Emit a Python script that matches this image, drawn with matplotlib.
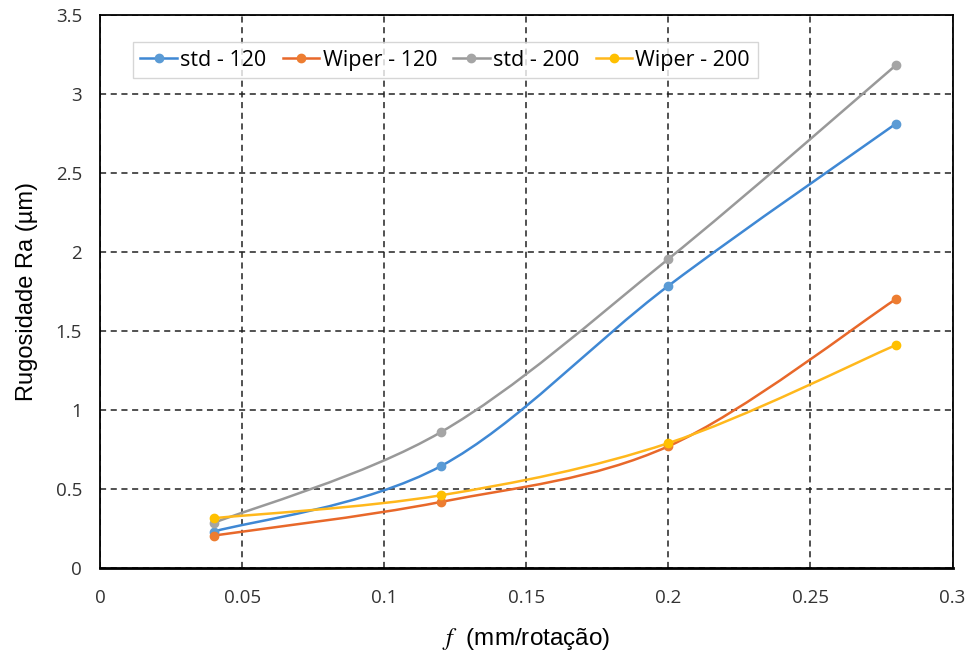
import matplotlib
matplotlib.use("Agg")
import matplotlib.pyplot as plt
from matplotlib.path import Path
from matplotlib.patches import PathPatch
from matplotlib.lines import Line2D
import numpy as np

plt.rcParams["mathtext.fontset"] = "stix"

feed = [0.04, 0.12, 0.20, 0.28]
series_names = ["std - 120", "Wiper - 120", "std - 200", "Wiper - 200"]
std_120 = [0.23, 0.645, 1.785, 2.81]
wiper_120 = [0.205, 0.418, 0.77, 1.70]
std_200 = [0.285, 0.86, 1.955, 3.18]
wiper_200 = [0.315, 0.46, 0.79, 1.41]
series_values = [std_120, wiper_120, std_200, wiper_200]
line_colors = ["#3f88d4", "#e8682a", "#999999", "#ffb81c"]
marker_colors = ["#5b9bd5", "#ed7d31", "#a5a5a5", "#ffc000"]

x_ticks = [0, 0.05, 0.1, 0.15, 0.2, 0.25, 0.3]
x_tick_labels = ["0", "0.05", "0.1", "0.15", "0.2", "0.25", "0.3"]
y_ticks = [0, 0.5, 1, 1.5, 2, 2.5, 3, 3.5]
y_tick_labels = ["0", "0.5", "1", "1.5", "2", "2.5", "3", "3.5"]


def smooth_path(xs, ys):
    pts = np.column_stack([xs, ys]).astype(float)
    n = len(pts)
    verts = [pts[0]]
    codes = [Path.MOVETO]
    for i in range(n - 1):
        p0 = pts[i - 1] if i > 0 else pts[i]
        p1 = pts[i]
        p2 = pts[i + 1]
        p3 = pts[i + 2] if i + 2 < n else pts[i + 1]
        c1 = p1 + (p2 - p0) / 6.0
        c2 = p2 - (p3 - p1) / 6.0
        verts += [c1, c2, p2]
        codes += [Path.CURVE4] * 3
    return Path(verts, codes)


fig = plt.figure(figsize=(9.71, 6.57), dpi=100)
ax = fig.add_axes([0.103, 0.1355, 0.878, 0.842])

for name, vals, lc, mc in zip(series_names, series_values, line_colors, marker_colors):
    patch = PathPatch(smooth_path(feed, vals), facecolor="none", edgecolor=lc,
                      lw=1.8, zorder=3)
    ax.add_patch(patch)
    ax.plot(feed, vals, linestyle="none", marker="o", markersize=6,
            color=mc, zorder=4)

ax.set_xlim(0, 0.3)
ax.set_ylim(0, 3.5)
ax.set_xticks(x_ticks)
ax.set_xticklabels(x_tick_labels)
ax.set_yticks(y_ticks)
ax.set_yticklabels(y_tick_labels)
ax.tick_params(axis="both", length=0, labelsize=13.5, colors="#333333")
ax.tick_params(axis="x", pad=15)
ax.tick_params(axis="y", pad=13)
for lab in ax.get_xticklabels() + ax.get_yticklabels():
    lab.set_fontfamily("Open Sans")

ax.grid(True, color="#222222", linestyle=(0, (4, 3)), linewidth=1.1)
for s in ax.spines.values():
    s.set_color("black")
    s.set_linewidth(1.3)
ax.spines["bottom"].set_linewidth(2.0)

ax.set_ylabel("Rugosidade Ra (µm)", fontsize=17, family="Liberation Sans", labelpad=13)
ax.set_xlabel(r"$f$  (mm/rotação)", fontsize=17.5, family="Liberation Sans", labelpad=14)

handles = [Line2D([0], [0], color=lc, lw=1.8, marker="o", markersize=6,
                  markerfacecolor=mc, markeredgecolor=mc)
           for lc, mc in zip(line_colors, marker_colors)]
leg = ax.legend(handles, series_names, loc="upper left", ncol=4,
                bbox_to_anchor=(0.026, 0.97), frameon=True, fancybox=False,
                prop={"family": "Open Sans", "size": 15.5}, handlelength=1.7,
                handletextpad=0.15, columnspacing=0.75, borderpad=0.35)
leg.get_frame().set_edgecolor("#cccccc")
leg.get_frame().set_linewidth(1.0)

fig.savefig("out.png", dpi=100)
